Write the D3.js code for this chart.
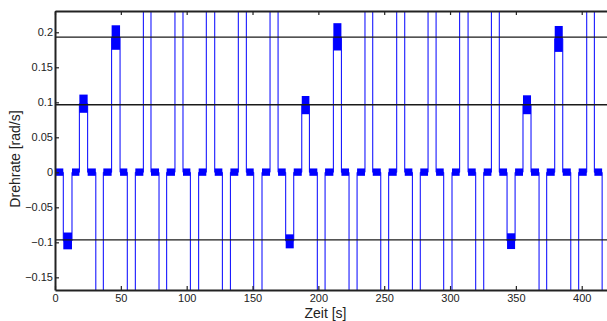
<!DOCTYPE html>
<html>
<head>
<meta charset="utf-8">
<script src="https://cdn.jsdelivr.net/npm/d3@7"></script>
<style>
  html, body { margin: 0; padding: 0; background: #fff; }
  svg { display: block; }
  text { font-family: "Liberation Sans", Arial, Helvetica, sans-serif; fill: #222; }
</style>
</head>
<body>
<svg id="chart" width="607" height="321"></svg>
<script>
// ---------- data ----------
// rotation events: start time [s], end time [s], plateau rate [rad/s]
const eventStart = [6.3, 18.5, 31.0, 43.0, 54.9, 67.1, 79.0, 91.1, 102.8, 114.9, 127.1, 139.2, 150.9, 163.3,
                    175.2, 187.4, 199.2, 211.4, 223.3, 235.4, 247.4, 259.5, 271.4, 283.3, 295.2, 307.3, 319.5, 331.4,
                    343.3, 355.4, 367.6, 379.5, 391.7, 403.8, 415.5];
const eventEnd   = [12.9, 24.8, 36.7, 49.4, 61.0, 72.9, 84.8, 97.2, 109.1, 121.3, 133.2, 145.3, 157.2, 169.4,
                    181.3, 193.2, 205.1, 217.5, 229.4, 241.3, 253.4, 265.6, 277.4, 289.4, 301.5, 313.7, 325.6, 337.4,
                    349.4, 361.5, 373.4, 385.6, 397.7, 409.6, 421.0];
const eventLevel = [-0.098, 0.098, -0.5, 0.193, -0.5, 0.5, -0.5, 0.5, -0.5, 0.5, -0.5, 0.5, -0.5, 0.5,
                    -0.098, 0.097, -0.5, 0.193, -0.5, 0.5, -0.5, 0.5, -0.5, 0.5, -0.5, 0.5, -0.5, 0.5,
                    -0.098, 0.097, -0.5, 0.191, -0.5, 0.5, -0.5];
// noise envelope on each plateau (min / max), null where off-scale
const bandLo = [-0.110, 0.085, null, 0.175, null, null, null, null, null, null, null, null, null, null,
                -0.1086, 0.083, null, 0.174, null, null, null, null, null, null, null, null, null, null,
                -0.1096, 0.083, null, 0.172, null, null, null];
const bandHi = [-0.086, 0.111, null, 0.210, null, null, null, null, null, null, null, null, null, null,
                -0.0886, 0.109, null, 0.213, null, null, null, null, null, null, null, null, null, null,
                -0.0871, 0.110, null, 0.209, null, null, null];
// noise envelope of the rest (zero-rate) segments
const restLo = -0.005;
const restHi = 0.0055;
const signalStart = 0.5;

// reference lines
const refLines = [0.193, 0.0965, -0.0965];

// axes
const xDomain = [0, 419.2];
const yDomain = [-0.1681, 0.2304];
const xTicks = [0, 50, 100, 150, 200, 250, 300, 350, 400];
const xTickLabels = ["0", "50", "100", "150", "200", "250", "300", "350", "400"];
const yTicks = [-0.15, -0.1, -0.05, 0, 0.05, 0.1, 0.15, 0.2];
const yTickLabels = ["\u22120.15", "\u22120.1", "\u22120.05", "0", "0.05", "0.1", "0.15", "0.2"];
const xLabel = "Zeit [s]";
const yLabel = "Drehrate [rad/s]";

// ---------- drawing ----------
const L = 55, R = 607, T = 11, B = 290;
const svg = d3.select("#chart");
const x = d3.scaleLinear().domain(xDomain).range([L, R]);
const y = d3.scaleLinear().domain(yDomain).range([B, T]);

svg.append("defs").append("clipPath").attr("id", "clip")
  .append("rect").attr("x", L).attr("y", T).attr("width", R - L).attr("height", B - T);

const plot = svg.append("g").attr("clip-path", "url(#clip)");

// step signal
const pts = [[signalStart, 0]];
eventStart.forEach((s, i) => {
  pts.push([s, 0], [s, eventLevel[i]], [eventEnd[i], eventLevel[i]], [eventEnd[i], 0]);
});
const line = d3.line().x(d => x(d[0])).y(d => y(d[1]));
plot.append("path").attr("d", line(pts))
  .attr("fill", "none").attr("stroke", "#0000ff").attr("stroke-width", 1);

// rest-segment noise bands
const rests = [];
let prev = signalStart;
eventStart.forEach((s, i) => { rests.push([prev, s]); prev = eventEnd[i]; });
plot.selectAll("rect.rest").data(rests).join("rect").attr("class", "rest")
  .attr("x", d => x(d[0])).attr("width", d => Math.max(0, x(d[1]) - x(d[0])))
  .attr("y", y(restHi)).attr("height", y(restLo) - y(restHi))
  .attr("fill", "#0000ff");

// plateau noise bands
const bands = eventStart.map((s, i) => ({ s, e: eventEnd[i], lo: bandLo[i], hi: bandHi[i] }))
  .filter(d => d.lo !== null);
plot.selectAll("rect.band").data(bands).join("rect").attr("class", "band")
  .attr("x", d => x(d.s)).attr("width", d => x(d.e) - x(d.s))
  .attr("y", d => y(d.hi)).attr("height", d => y(d.lo) - y(d.hi))
  .attr("fill", "#0000ff");

// reference lines
svg.selectAll("line.ref").data(refLines).join("line").attr("class", "ref")
  .attr("x1", L).attr("x2", R).attr("y1", d => y(d)).attr("y2", d => y(d))
  .attr("stroke", "#1a1a1a").attr("stroke-width", 1.3);

// axes
const yAxis = d3.axisLeft(y).tickValues(yTicks).tickSizeInner(-4).tickSizeOuter(0).tickPadding(2)
  .tickFormat((d, i) => yTickLabels[i]);
const gy = svg.append("g").attr("transform", `translate(${L},0)`).call(yAxis);
const xAxis = d3.axisBottom(x).tickValues(xTicks).tickSizeInner(-4).tickSizeOuter(0).tickPadding(4)
  .tickFormat((d, i) => xTickLabels[i]);
const gx = svg.append("g").attr("transform", `translate(0,${B})`).call(xAxis);
const xTop = d3.axisTop(x).tickValues(xTicks).tickSizeInner(-4).tickSizeOuter(0).tickFormat("");
const gt = svg.append("g").attr("transform", `translate(0,${T})`).call(xTop);

[gy, gx, gt].forEach(g => {
  g.select(".domain").attr("stroke", "#222").attr("stroke-width", 2);
  g.selectAll(".tick line").attr("stroke", "#222").attr("stroke-width", 1.2);
  g.selectAll(".tick text").attr("font-size", 11).attr("fill", "#222")
    .attr("font-family", "'Liberation Sans', Arial, Helvetica, sans-serif");
});

// axis labels
svg.append("text").attr("x", 325.5).attr("y", 318).attr("text-anchor", "middle")
  .attr("font-size", 14).text(xLabel);
svg.append("text").attr("transform", "translate(20,159) rotate(-90)").attr("text-anchor", "middle")
  .attr("font-size", 14).text(yLabel);
</script>
</body>
</html>
